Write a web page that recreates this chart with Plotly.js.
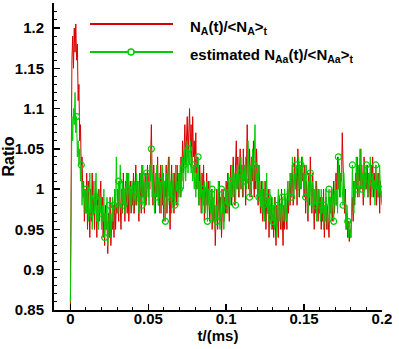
<!DOCTYPE html>
<html>
<head>
<meta charset="utf-8">
<script src="https://cdn.plot.ly/plotly-3.0.1.min.js"></script>
<style>
  html, body { margin: 0; padding: 0; background: #fff; }
  #gd { width: 399px; height: 349px; }
</style>
</head>
<body>
<div id="gd"></div>
<script>
// time axis: samples every 0.0005 ms starting at 0
const t0 = 0;
const dt = 0.0005;

// N_A(t)/<N_A>_t (red), one row = 0.01 ms
const ratioA = [
  0.85, 1.02, 1.16, 1.19, 1.15, 1.20, 1.17, 1.205, 1.16, 1.18, 1.11, 1.13, 1.06, 1.08, 1.02, 1.04, 0.99, 1.01, 0.96, 1.00,
  0.97, 1.02, 0.95, 1.01, 0.98, 0.94, 1.00, 0.96, 1.02, 0.97, 0.99, 0.95, 1.01, 0.97, 0.94, 0.99, 1.00, 0.96, 0.98, 1.01,
  0.96, 0.99, 0.94, 0.97, 0.93, 0.98, 0.95, 0.96, 0.92, 0.97, 0.94, 0.99, 0.93, 0.96, 0.95, 0.98, 0.94, 1.00, 0.95, 0.98,
  0.97, 1.00, 0.96, 1.01, 0.98, 0.95, 1.00, 0.97, 1.02, 0.98, 0.96, 1.01, 0.99, 0.97, 1.02, 0.96, 0.99, 1.01, 0.97, 1.00,
  0.98, 1.02, 0.97, 1.00, 1.03, 0.98, 1.01, 0.99, 0.96, 1.02, 1.00, 0.97, 1.03, 0.99, 1.01, 0.97, 1.02, 0.98, 1.00, 1.03,
  0.99, 1.02, 1.00, 1.05, 1.08, 1.01, 0.98, 1.03, 1.00, 0.97, 1.02, 0.99, 1.04, 0.98, 1.01, 0.97, 1.03, 1.00, 0.98, 1.02,
  0.96, 1.01, 0.99, 1.03, 0.97, 1.02, 1.04, 0.99, 0.95, 1.00, 1.03, 0.98, 1.01, 0.97, 1.02, 1.00, 0.98, 1.03, 0.99, 1.01,
  1.02, 0.99, 1.04, 1.01, 1.06, 1.02, 1.05, 1.08, 1.03, 1.06, 1.09, 1.04, 1.07, 1.10, 1.05, 1.08, 1.03, 1.09, 1.04, 1.06,
  1.02, 1.07, 1.00, 1.04, 1.01, 0.98, 1.03, 1.00, 0.97, 1.02, 0.99, 1.03, 0.96, 1.00, 0.98, 1.02, 0.97, 1.01, 0.99, 0.96,
  0.98, 1.00, 0.95, 0.99, 0.96, 0.98, 0.93, 0.97, 1.00, 0.95, 0.98, 1.01, 0.96, 0.99, 0.94, 0.98, 1.00, 0.96, 0.99, 0.97,
  1.01, 0.97, 1.02, 0.99, 0.96, 1.01, 1.03, 0.98, 1.00, 1.04, 1.01, 0.98, 1.03, 1.06, 1.00, 1.04, 0.99, 1.02, 1.05, 1.00,
  1.03, 0.99, 1.05, 1.01, 1.03, 0.98, 1.04, 1.08, 1.02, 1.00, 1.05, 1.02, 0.99, 1.04, 1.01, 1.06, 0.99, 1.03, 1.00, 1.05,
  1.02, 0.98, 1.03, 1.00, 0.97, 1.01, 0.99, 0.96, 1.00, 0.97, 1.01, 0.95, 0.99, 0.97, 1.00, 0.94, 0.98, 0.96, 0.99, 0.95,
  0.97, 0.94, 0.99, 0.95, 0.93, 0.98, 0.96, 0.94, 0.99, 0.97, 0.95, 1.00, 0.96, 0.93, 0.98, 0.95, 0.99, 0.97, 0.95, 1.00,
  0.97, 1.01, 0.98, 1.02, 0.99, 1.03, 0.98, 1.01, 1.04, 1.00, 1.02, 0.98, 1.05, 1.01, 0.99, 1.03, 1.00, 1.04, 1.01, 1.02,
  0.99, 1.03, 0.97, 1.01, 0.99, 0.96, 1.02, 0.98, 1.04, 1.00, 0.97, 1.02, 0.99, 0.95, 1.00, 0.97, 1.01, 0.98, 0.96, 1.00,
  0.97, 0.99, 0.95, 0.98, 0.96, 1.00, 0.94, 0.97, 0.99, 0.95, 0.98, 0.96, 0.94, 0.99, 0.97, 1.00, 0.96, 0.98, 1.01, 0.97,
  0.99, 1.02, 0.98, 1.04, 1.00, 1.03, 0.99, 1.02, 1.01, 1.07, 1.03, 1.00, 0.97, 1.00, 0.95, 0.97, 0.94, 0.96, 0.935, 0.95,
  0.94, 0.97, 0.99, 0.96, 1.01, 0.98, 1.02, 1.00, 1.04, 0.99, 1.03, 1.01, 1.05, 1.00, 1.03, 1.01, 0.98, 1.04, 1.00, 1.02,
  1.00, 1.03, 0.99, 1.02, 1.01, 0.98, 1.03, 1.00, 1.04, 0.99, 1.02, 1.00, 1.03, 0.98, 1.01, 0.99, 1.02, 0.97, 1.01, 0.99,
  0.99
];

// estimated N_Aa(t)/<N_Aa>_t (green), one row = 0.01 ms
const ratioAa = [
  0.86, 1.00, 1.09, 1.06, 1.10, 1.08, 1.12, 1.07, 1.09, 1.04, 1.06, 1.03, 1.05, 1.01, 1.03, 0.98, 1.01, 0.99, 1.00, 0.97,
  1.00, 0.97, 1.01, 0.96, 0.99, 1.02, 0.97, 1.00, 0.95, 0.99, 1.01, 0.97, 0.99, 1.02, 0.96, 0.98, 0.95, 1.00, 0.97, 0.99,
  0.95, 0.98, 0.96, 1.00, 0.94, 0.97, 0.95, 0.99, 0.93, 0.96, 0.98, 0.94, 0.97, 0.95, 0.99, 0.96, 0.98, 1.00, 0.97, 1.04,
  0.99, 0.97, 1.01, 0.98, 1.03, 0.99, 0.97, 1.01, 0.98, 1.00, 0.97, 0.99, 1.02, 0.98, 1.00, 1.02, 0.97, 1.00, 0.98, 1.01,
  1.00, 0.97, 1.01, 0.99, 0.98, 1.02, 0.99, 1.01, 0.97, 1.00, 1.02, 0.99, 0.98, 1.03, 1.00, 0.98, 1.01, 0.99, 1.02, 1.00,
  1.01, 0.98, 1.03, 1.01, 1.05, 0.99, 1.02, 1.00, 0.97, 1.01, 0.99, 1.03, 1.00, 0.98, 1.02, 0.99, 1.01, 0.97, 1.03, 1.00,
  0.98, 1.01, 0.96, 1.00, 1.02, 0.98, 1.00, 1.04, 0.99, 1.01, 0.97, 1.00, 1.02, 0.99, 0.98, 1.03, 1.00, 1.01, 0.98, 1.02,
  1.00, 1.03, 0.99, 1.02, 1.04, 1.00, 1.03, 1.05, 1.01, 1.04, 1.06, 1.02, 1.05, 1.03, 1.06, 1.02, 1.04, 1.01, 1.03, 1.00,
  1.03, 0.99, 1.02, 1.00, 1.04, 0.98, 1.01, 0.99, 1.02, 0.97, 1.00, 0.98, 1.01, 0.97, 0.99, 1.01, 0.96, 1.00, 0.98, 1.01,
  0.97, 0.99, 1.00, 0.96, 0.98, 1.00, 0.95, 0.98, 0.96, 0.99, 1.01, 0.97, 0.95, 0.98, 1.00, 0.97, 0.99, 0.95, 0.98, 1.00,
  0.98, 1.00, 0.97, 1.02, 1.00, 0.98, 1.01, 0.99, 1.03, 0.99, 1.02, 1.00, 0.98, 1.02, 1.00, 1.03, 1.01, 0.99, 1.02, 1.04,
  1.00, 1.02, 0.99, 1.03, 1.01, 1.04, 1.00, 1.02, 1.06, 1.01, 0.99, 1.03, 1.00, 1.02, 1.05, 1.00, 1.03, 1.08, 1.01, 1.02,
  1.00, 1.03, 0.99, 1.01, 0.98, 1.00, 0.97, 1.01, 0.98, 0.96, 1.00, 0.98, 1.02, 0.97, 0.99, 0.96, 1.00, 0.97, 0.95, 0.99,
  0.96, 0.98, 0.95, 0.99, 0.97, 0.94, 0.98, 1.00, 0.96, 0.98, 0.97, 0.95, 0.99, 0.97, 0.96, 1.00, 0.98, 0.96, 0.99, 1.01,
  0.99, 0.98, 1.02, 1.00, 0.99, 1.04, 1.01, 0.99, 1.02, 1.00, 1.03, 1.01, 0.99, 1.04, 1.02, 1.00, 1.03, 1.01, 1.04, 1.02,
  1.00, 1.02, 0.99, 1.03, 1.00, 0.97, 1.01, 0.99, 1.02, 0.98, 1.00, 1.01, 0.97, 1.00, 0.98, 1.01, 0.96, 0.99, 1.00, 0.98,
  0.98, 0.96, 1.00, 0.97, 0.99, 0.95, 0.98, 0.96, 1.00, 0.97, 0.95, 0.98, 1.00, 0.96, 0.99, 0.97, 1.00, 0.98, 0.96, 0.99,
  1.01, 0.98, 1.00, 0.97, 1.04, 1.00, 1.02, 0.99, 1.03, 1.00, 0.98, 1.02, 0.99, 0.97, 0.95, 0.98, 0.96, 0.94, 0.96, 0.95,
  0.94, 0.97, 1.03, 0.98, 0.97, 1.01, 0.99, 1.04, 1.00, 1.02, 1.03, 0.99, 1.01, 1.05, 1.00, 1.02, 1.01, 0.99, 1.03, 1.00,
  1.03, 1.00, 0.99, 1.02, 1.00, 1.04, 1.01, 0.99, 1.02, 1.00, 1.01, 0.98, 1.03, 1.00, 1.02, 0.99, 1.01, 1.03, 1.00, 0.99,
  0.98
];

const xTicks = [0, 0.05, 0.1, 0.15, 0.2];
const yTicks = [0.85, 0.9, 0.95, 1, 1.05, 1.1, 1.15, 1.2];
const legendLabels = [
  'N<sub>A</sub>(t)/&lt;N<sub>A</sub>&gt;<sub>t</sub>',
  'estimated N<sub>Aa</sub>(t)/&lt;N<sub>Aa</sub>&gt;<sub>t</sub>'
];

const FONT = 'Liberation Sans, Arial, Helvetica, sans-serif';
const RED = '#d80000';
const GREEN = '#00cc00';

// symbols on the green curve: every 6th sample, skipping the start-up jump
const tAa = ratioAa.map((v, i) => t0 + i * dt);
const keep = (v, i) => i >= 8 && i % 6 === 2;
const symT = tAa.filter(keep);
const symV = ratioAa.filter(keep);

const traceA = {
  x0: t0, dx: dt, y: ratioA,
  type: 'scatter', mode: 'lines', showlegend: false,
  line: { color: RED, width: 1 }
};

const traceAa = {
  x0: t0, dx: dt, y: ratioAa,
  type: 'scatter', mode: 'lines', showlegend: false,
  line: { color: GREEN, width: 1 }
};

const traceSym = {
  x: symT, y: symV,
  type: 'scatter', mode: 'markers', showlegend: false,
  marker: { symbol: 'circle-open', size: 6, color: GREEN, line: { width: 1.2 } }
};

const axisCommon = {
  showline: true, linecolor: '#000', linewidth: 2,
  ticks: 'inside', ticklen: 6, tickwidth: 1.5, tickcolor: '#000',
  showgrid: false, zeroline: false, mirror: false,
  tickfont: { family: FONT, size: 15, color: '#000', weight: 'bold' }
};

// hand-made legend (plotly's legend line is too short)
// pixel -> paper: x = (px - 54) / 328, y = (310 - py) / 307
const legY = [0.9316, 0.8404];
const legShapes = [
  { type: 'line', xref: 'paper', yref: 'paper', x0: 0.1098, x1: 0.3628, y0: legY[0], y1: legY[0], line: { color: RED, width: 2 } },
  { type: 'line', xref: 'paper', yref: 'paper', x0: 0.1098, x1: 0.3628, y0: legY[1], y1: legY[1], line: { color: GREEN, width: 2 } },
  { type: 'circle', xref: 'paper', yref: 'paper', xsizemode: 'pixel', ysizemode: 'pixel',
    xanchor: 0.2348, yanchor: legY[1], x0: -3, x1: 3, y0: -3, y1: 3, line: { color: GREEN, width: 1.5 }, fillcolor: '#fff' }
];
const legAnn = legendLabels.map((txt, i) => ({
  xref: 'paper', yref: 'paper', x: 0.4085, y: legY[i] - 0.012, xanchor: 'left', yanchor: 'middle',
  text: '<b>' + txt + '</b>', showarrow: false,
  font: { family: FONT, size: 15, color: '#000', weight: 'bold' }
}));

const layout = {
  width: 399, height: 349,
  margin: { l: 54, r: 17, t: 3, b: 39 },
  paper_bgcolor: '#fff', plot_bgcolor: '#fff',
  showlegend: false,
  shapes: legShapes,
  annotations: legAnn,
  xaxis: Object.assign({}, axisCommon, {
    range: [-0.0105, 0.2],
    tickvals: xTicks, ticktext: xTicks.map(v => '<b>' + v + '</b>'),
    ticklabelstandoff: -6,
    minor: { dtick: 0.01, ticks: 'inside', ticklen: 3, tickwidth: 1, tickcolor: '#000' },
    title: { text: '<b>t/(ms)</b>', font: { family: FONT, size: 15, color: '#000', weight: 'bold' }, standoff: 0 }
  }),
  yaxis: Object.assign({}, axisCommon, {
    range: [0.85, 1.231],
    tickvals: yTicks, ticktext: yTicks.map(v => '<b>' + v + '</b>'),
    ticklabelstandoff: 5,
    minor: { dtick: 0.01, ticks: 'inside', ticklen: 3, tickwidth: 1, tickcolor: '#000' },
    title: { text: '<b>Ratio</b>', font: { family: FONT, size: 16, color: '#000', weight: 'bold' }, standoff: 4 }
  })
};

Plotly.newPlot('gd', [traceA, traceAa, traceSym], layout, { staticPlot: true, displayModeBar: false });
</script>
</body>
</html>
